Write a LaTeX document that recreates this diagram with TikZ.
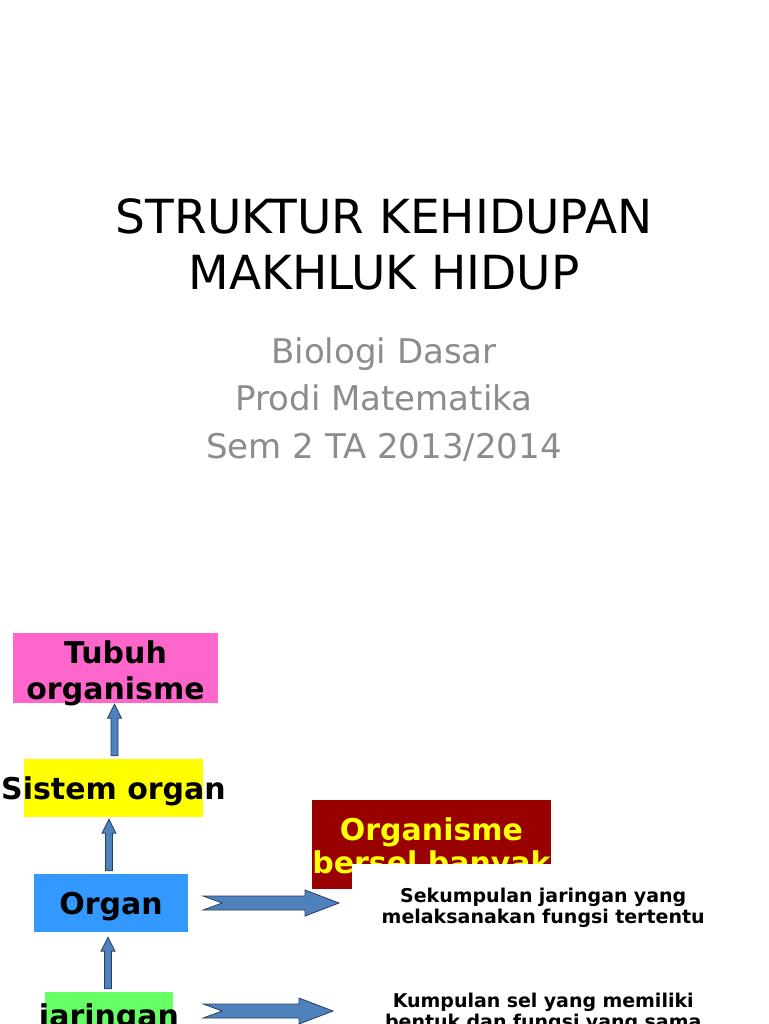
\documentclass[tikz,border=0pt]{standalone}
\usepackage{fontspec}
\setmainfont{DejaVu Sans}
\usetikzlibrary{calc}
\definecolor{boxpink}{HTML}{FF66CC}
\definecolor{boxyellow}{HTML}{FFFF00}
\definecolor{boxblue}{HTML}{3399FF}
\definecolor{boxgreen}{HTML}{66FF66}
\definecolor{boxred}{HTML}{990000}
\definecolor{arrowblue}{HTML}{4F81BD}
\definecolor{arrowedge}{HTML}{243F60}
\definecolor{subgray}{HTML}{8C8C8C}

% block arrow pointing up, tail point -> tip point
\newcommand{\uparr}[2]{%
  \draw[blockarrow] let \p1=(#1), \p2=(#2) in
    (\x1-3.5pt,\y1) -- (\x1-3.5pt,\y2-14pt) -- (\x1-7pt,\y2-14pt) -- (\x1,\y2)
    -- (\x1+7pt,\y2-14pt) -- (\x1+3.5pt,\y2-14pt) -- (\x1+3.5pt,\y1) -- cycle;}
% notched block arrow pointing right
\newcommand{\rarr}[2]{%
  \draw[blockarrow] let \p1=(#1), \p2=(#2) in
    (\x1,\y1+7pt) -- (\x2-34pt,\y1+7pt) -- (\x2-34pt,\y1+13pt) -- (\x2,\y1)
    -- (\x2-34pt,\y1-13pt) -- (\x2-34pt,\y1-7pt) -- (\x1,\y1-7pt)
    -- (\x1+19pt,\y1) -- cycle;}

\begin{document}
\begin{tikzpicture}[x=1pt, y=-1pt,
  level/.style={inner sep=0pt, align=center, text height=23pt, text depth=1pt,
                font=\bfseries\fontsize{30}{36}\selectfont},
  desc/.style={fill=white, inner xsep=0pt, inner ysep=24pt, text width=382pt,
               align=center, anchor=north west,
               font=\bfseries\fontsize{19}{21}\selectfont},
  blockarrow/.style={draw=arrowedge, fill=arrowblue, line width=0.8pt, line join=miter},
]
\useasboundingbox (0,0) rectangle (768,1024);
\clip (0,0) rectangle (768,1024);

% Title
\node[anchor=north, inner sep=0pt, align=center,
      font=\fontsize{47}{56}\selectfont] (title) at (384,198)
{STRUKTUR KEHIDUPAN\\MAKHLUK HIDUP};

\node[anchor=north, inner sep=0pt, align=center, text=subgray,
      font=\fontsize{34}{47.5}\selectfont] (sub) at (384,337)
{Biologi Dasar\\Prodi Matematika~\\Sem 2 TA 2013/2014};

% Levels
\node[level, fill=boxpink, minimum width=205, minimum height=70,
      text height=63pt] (tub) at (115.5,668)
{Tubuh\\organisme};
\node[level, fill=boxyellow, minimum width=179, minimum height=58] (sis) at (113.5,788)
{\makebox[0pt]{Sistem organ}};
\node[level, fill=boxblue, minimum width=154, minimum height=58] (org) at (111,903)
{Organ};
\node[level, fill=boxgreen, minimum width=128, minimum height=46] (jar) at (109,1015)
{\makebox[0pt]{jaringan}};

\uparr{$(sis.north)+(1,-3)$}{$(tub.south)+(0,1)$}
\uparr{$(org.north)+(-2,-3)$}{$(sis.south)+(0,2)$}
\uparr{$(jar.north)+(-1,-3)$}{$(org.south)+(0,5)$}

% Organisme bersel banyak
\node[level, fill=boxred, text=boxyellow, minimum width=237, minimum height=89,
      text height=58pt, font=\bfseries\fontsize{30}{33}\selectfont] (multi) at (431.5,844.5)
{Organisme\\bersel banyak};

% Descriptions
\node[desc] (des1) at (352,864)
{Sekumpulan jaringan yang\\melaksanakan fungsi tertentu};
\node[desc] (des2) at (352,969)
{Kumpulan sel yang memiliki\\bentuk dan fungsi yang sama};

\rarr{$(org.east)+(15,0)$}{$(des1.west)+(-13,0)$}
\rarr{$(jar.east)+(30,-4)$}{$(des2.west)+(-19,0)$}
\end{tikzpicture}
\end{document}
